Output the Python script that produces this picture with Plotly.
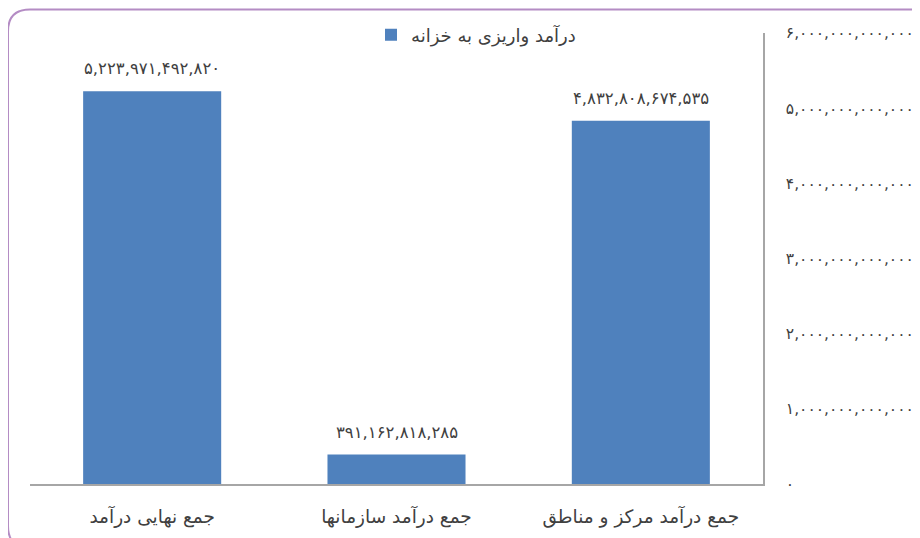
import plotly.graph_objects as go

categories = ["جمع درآمد مرکز و مناطق", "جمع درآمد سازمانها", "جمع نهایی درآمد"]
values = [4832808674535, 391162818285, 5223971492820]
series_name = "درآمد واریزی به خزانه"
y_ticks = [0, 1e12, 2e12, 3e12, 4e12, 5e12, 6e12]

FA = str.maketrans("0123456789", "۰۱۲۳۴۵۶۷۸۹")


def fa_num(v):
    return f"{int(v):,}".translate(FA)


W, H = 920, 538
OFF = 8  # page body margin
L, R, T, B = 30, 763, 33, 484  # plot area in page pixels

fig = go.Figure()
fig.add_trace(go.Bar(
    x=categories, y=values, name=series_name,
    marker=dict(color="#4f81bd", line=dict(width=0)),
    width=0.565, showlegend=True,
))

for c, v in zip(categories, values):
    fig.add_annotation(x=c, y=v, text=fa_num(v), showarrow=False,
                       yanchor="bottom", yshift=11,
                       font=dict(size=16.5, color="#404040", family="DejaVu Sans"))


def px(x):
    return (x - L) / (R - L)


def py(y):
    return (B - y) / (B - T)


x0, x1, y0, y1, r = 8, 945, 9.5, 548, 22
path = (f"M {px(x0)},{py(y0 + r)} "
        f"Q {px(x0)},{py(y0)} {px(x0 + r)},{py(y0)} "
        f"L {px(x1 - r)},{py(y0)} "
        f"Q {px(x1)},{py(y0)} {px(x1)},{py(y0 + r)} "
        f"L {px(x1)},{py(y1 - r)} "
        f"Q {px(x1)},{py(y1)} {px(x1 - r)},{py(y1)} "
        f"L {px(x0 + r)},{py(y1)} "
        f"Q {px(x0)},{py(y1)} {px(x0)},{py(y1 - r)} Z")
fig.add_shape(type="path", path=path, xref="paper", yref="paper",
              line=dict(color="#b48cc4", width=2), layer="below")

fig.update_layout(
    width=W, height=H,
    margin=dict(l=L - OFF, r=W - (R - OFF), t=T - OFF, b=H - (B - OFF),
                pad=0, autoexpand=False),
    paper_bgcolor="white", plot_bgcolor="white",
    font=dict(family="DejaVu Sans", color="#404040"),
    bargap=0.435,
    showlegend=True,
    legend=dict(x=px(371), y=py(35), xanchor="left", yanchor="middle",
                orientation="h", font=dict(size=18, color="#404040"),
                bgcolor="rgba(0,0,0,0)", itemwidth=30),
    xaxis=dict(
        autorange="reversed", showline=True, linecolor="#a6a6a6", linewidth=1.5,
        ticks="outside", ticklen=15, tickcolor="rgba(0,0,0,0)",
        tickfont=dict(size=18.5, color="#404040"), showgrid=False, zeroline=False,
    ),
    yaxis=dict(
        side="right", range=[0, 6e12], showline=True, linecolor="#a6a6a6",
        linewidth=1.5, ticks="outside", ticklen=18, tickcolor="rgba(0,0,0,0)",
        tickvals=y_ticks, ticktext=[fa_num(v) for v in y_ticks],
        tickfont=dict(size=15.5, color="#404040"), showgrid=False, zeroline=False,
    ),
)

fig.write_html("out.html")
